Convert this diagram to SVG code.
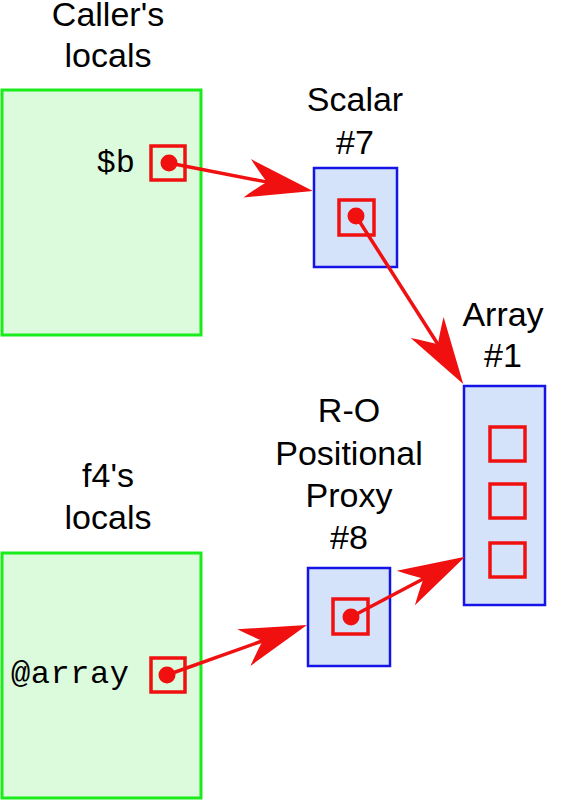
<svg xmlns="http://www.w3.org/2000/svg" width="563" height="800" viewBox="0 0 563 800">
  <style>
    .title { font-family: "Liberation Sans", Arial, sans-serif; font-size: 34px; fill: #000; text-anchor: middle; }
    .mono { font-family: "Liberation Mono", "Courier New", monospace; font-size: 32px; fill: #000; }
    .locals { fill: #dcfadc; stroke: #1aeb1a; stroke-width: 3; }
    .obj { fill: #d5e3fa; stroke: #1414e6; stroke-width: 2.5; }
    .slot { fill: none; stroke: #f01010; stroke-width: 3.5; }
    .dot { fill: #f01010; }
    .conn { stroke: #f01010; stroke-width: 3.5; fill: none; marker-end: url(#head); }
  </style>
  <defs>
    <marker id="head" markerUnits="userSpaceOnUse" orient="auto" viewBox="-70 -21 72 42" refX="-40" refY="0" markerWidth="72" markerHeight="42">
      <path d="M0,0 L-67,-19.5 Q-56,-8 -47,0 Q-56,8 -67,19.5 Z" fill="#f01010"/>
    </marker>
  </defs>
  <rect width="563" height="800" fill="#ffffff"/>

  <g id="callers-locals">
    <text class="title" x="108" y="26">Caller's</text>
    <text class="title" x="108" y="67">locals</text>
    <rect class="locals" x="2" y="90" width="199" height="245"/>
    <text class="mono" x="135" y="172" text-anchor="end">$b</text>
    <rect class="slot" x="151" y="146" width="34" height="34"/>
    <circle class="dot" cx="169" cy="163" r="8.5"/>
  </g>

  <g id="scalar7">
    <text class="title" x="355" y="111">Scalar</text>
    <text class="title" x="355" y="154">#7</text>
    <rect class="obj" x="314" y="168" width="83" height="99"/>
    <rect class="slot" x="339" y="200" width="35" height="35"/>
    <circle class="dot" cx="356" cy="216" r="8.5"/>
  </g>

  <g id="array1">
    <text class="title" x="503" y="326">Array</text>
    <text class="title" x="503" y="367">#1</text>
    <rect class="obj" x="464" y="386" width="81" height="219"/>
    <rect class="slot" x="490" y="427" width="35" height="34"/>
    <rect class="slot" x="490" y="484" width="35" height="34"/>
    <rect class="slot" x="490" y="543" width="35" height="34"/>
  </g>

  <g id="proxy8">
    <text class="title" x="349" y="422">R-O</text>
    <text class="title" x="349" y="465">Positional</text>
    <text class="title" x="349" y="507">Proxy</text>
    <text class="title" x="349" y="549">#8</text>
    <rect class="obj" x="308" y="568" width="82" height="98"/>
    <rect class="slot" x="333" y="599" width="35" height="35"/>
    <circle class="dot" cx="351" cy="617" r="8.5"/>
  </g>

  <g id="f4-locals">
    <text class="title" x="108" y="487">f4's</text>
    <text class="title" x="108" y="529">locals</text>
    <rect class="locals" x="2" y="553" width="199" height="245"/>
    <text class="mono" x="11" y="683" textLength="118">@array</text>
    <rect class="slot" x="151" y="658" width="34" height="34"/>
    <circle class="dot" cx="167" cy="675" r="8.5"/>
  </g>

  <g id="connectors">
    <line class="conn" x1="169" y1="163" x2="273.7" y2="183.4"/>
    <line class="conn" x1="356" y1="216" x2="441.7" y2="350.2"/>
    <line class="conn" x1="351" y1="617" x2="429.7" y2="575.5"/>
    <line class="conn" x1="167" y1="675" x2="269.3" y2="638.5"/>
  </g>
</svg>
